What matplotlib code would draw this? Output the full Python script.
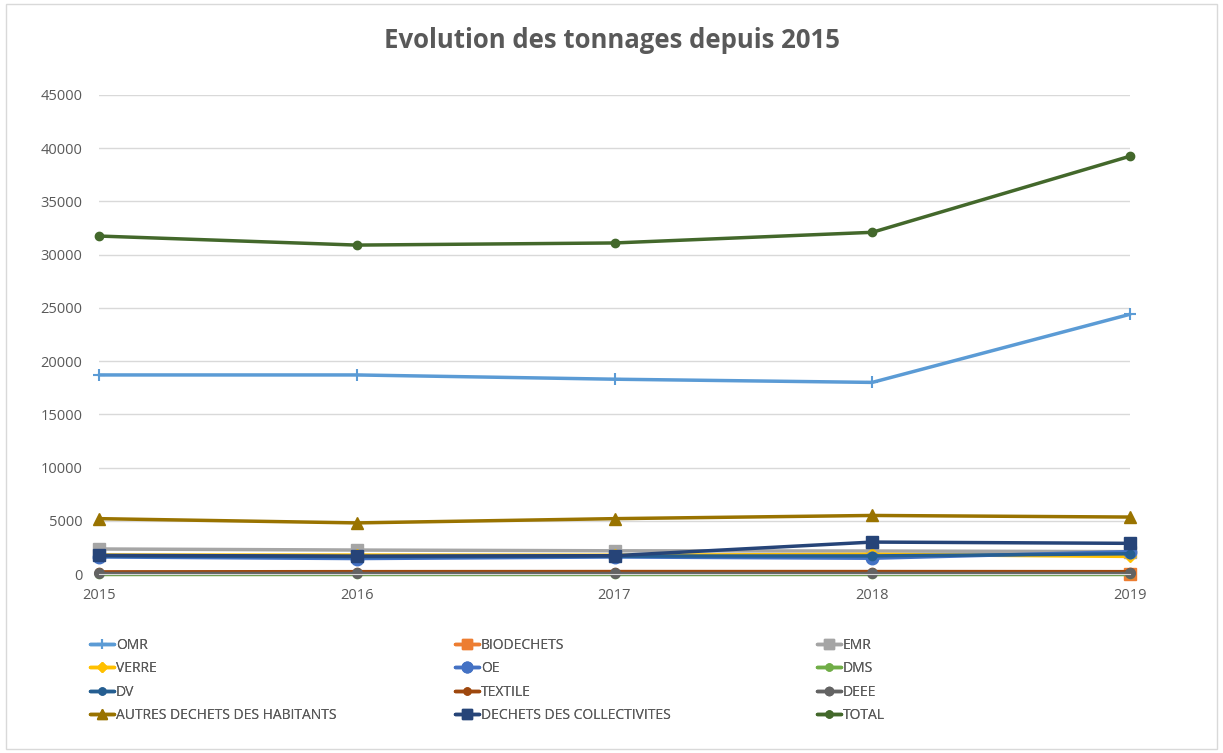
import matplotlib
matplotlib.use("Agg")
import matplotlib.pyplot as plt
import numpy as np
from matplotlib.patches import Rectangle

years = [2015, 2016, 2017, 2018, 2019]
nan = np.nan
omr = [18700, 18700, 18300, 18000, 24400]
biodechets = [nan, nan, nan, nan, 20]
emr = [2350, 2250, 2180, 2160, 2100]
verre = [1780, 1780, 1760, 1850, 1650]
oe = [1600, 1450, 1600, 1480, 2100]
dms = [30, 30, 30, 30, 30]
dv = [1700, 1620, 1680, 1700, 1900]
textile = [200, 220, 230, 230, 220]
deee = [50, 50, 50, 50, 50]
autres = [5200, 4800, 5200, 5500, 5350]
collectivites = [1750, 1680, 1720, 3000, 2880]
total = [31750, 30900, 31100, 32100, 39250]

labels = ["OMR", "BIODECHETS", "EMR", "VERRE", "OE", "DMS", "DV", "TEXTILE",
          "DEEE", "AUTRES DECHETS DES HABITANTS", "DECHETS DES COLLECTIVITES", "TOTAL"]
series = [omr, biodechets, emr, verre, oe, dms, dv, textile, deee, autres,
          collectivites, total]
colors = ["#5B9BD5", "#ED7D31", "#A5A5A5", "#FFC000", "#4472C4", "#70AD47",
          "#255E91", "#9E480E", "#636363", "#997300", "#264478", "#43682B"]
markers = ["+", "s", "s", "D", "o", "o", "o", "o", "o", "^", "s", "o"]
msizes = [9, 9, 9, 6, 9, 6, 6, 6, 7, 9, 9, 6]

plt.rcParams['font.family'] = ['Open Sans', 'DejaVu Sans']

fig = plt.figure(figsize=(12.23, 7.53), dpi=100)
ax = fig.add_axes([99 / 1223, 1 - 574 / 753, (1130 - 99) / 1223, (574 - 95) / 753])

handles = []
for lab, ys, c, m, ms in zip(labels, series, colors, markers, msizes):
    mew = 1.5 if m == "+" else 1
    h, = ax.plot(years, ys, color=c, lw=2.5, marker=m, markersize=ms,
                 markeredgewidth=mew, markeredgecolor=c, label=lab,
                 solid_capstyle="round", clip_on=False)
    handles.append(h)

ax.set_xlim(2015, 2019)
ax.set_ylim(0, 45000)
ax.set_yticks(np.arange(0, 45001, 5000))
ax.set_xticks(years)
ax.set_xticklabels([str(y) for y in years])
ax.grid(axis="y", color="#D9D9D9", lw=1)
ax.set_axisbelow(True)
for s in ["top", "right", "left"]:
    ax.spines[s].set_visible(False)
ax.spines["bottom"].set_color("#D9D9D9")
ax.tick_params(axis="both", length=0, labelsize=10.5, labelcolor="#595959")
ax.tick_params(axis="y", pad=12)
ax.tick_params(axis="x", pad=10)

fig.text(0.5, 1 - 41 / 753, "Evolution des tonnages depuis 2015", ha="center",
         va="center", fontsize=18.5, fontweight="bold", color="#595959")

# legend: three columns
cols_x = [90 / 1223, 455 / 1223, 817 / 1223]
for ci, cx in enumerate(cols_x):
    idx = [ci, ci + 3, ci + 6, ci + 9]
    leg = fig.legend([handles[i] for i in idx], [labels[i] for i in idx],
                     loc="upper left", bbox_to_anchor=(cx, 1 - 638 / 753),
                     frameon=False, fontsize=10, labelspacing=0.6,
                     handlelength=1.7, handletextpad=0.15, borderpad=0,
                     borderaxespad=0, markerscale=0.85)
    for t in leg.get_texts():
        t.set_color("#595959")
    fig.add_artist(leg)

fig.patches.append(Rectangle((6 / 1223, 4 / 753), 1 - 12 / 1223, 1 - 8 / 753,
                             transform=fig.transFigure, fill=False,
                             edgecolor="#D9D9D9", lw=1))

fig.savefig("out.png", dpi=100, facecolor="white")
